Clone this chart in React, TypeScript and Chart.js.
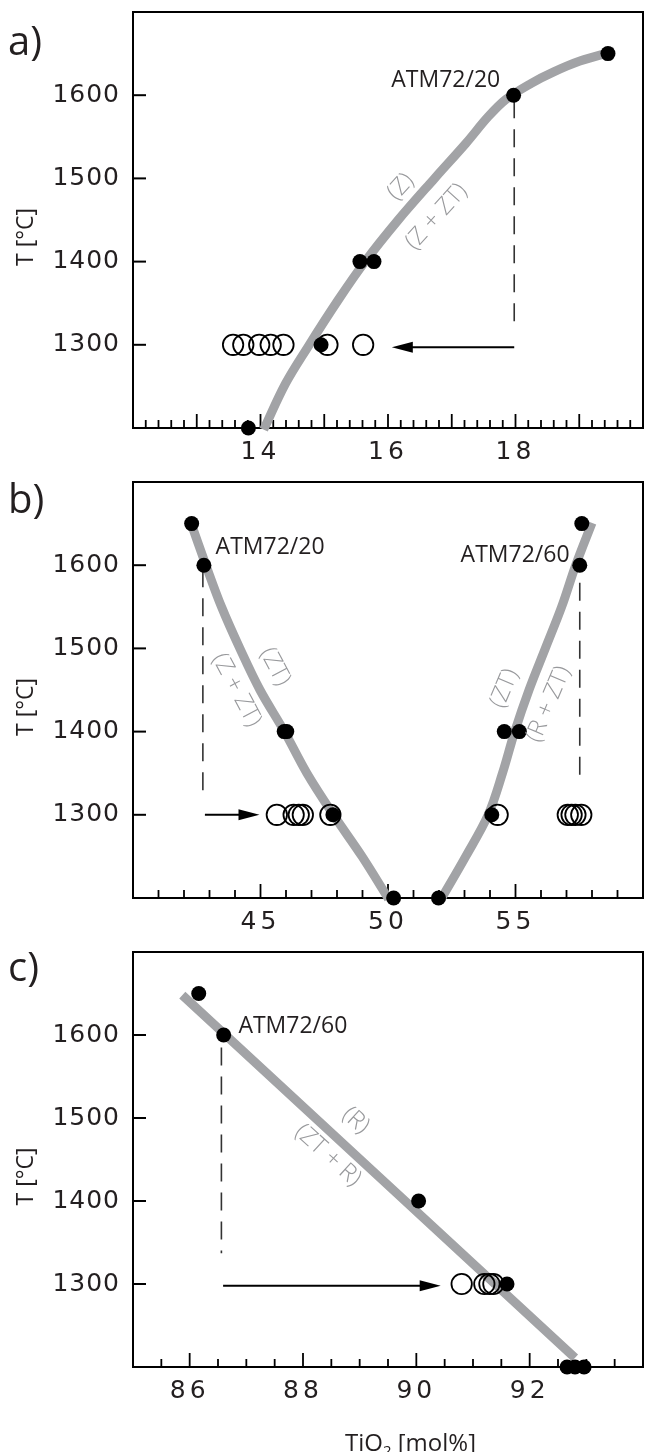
import { useEffect, useRef } from 'react';
import { Chart, registerables } from 'chart.js';

Chart.register(...registerables);

// ---------------- panel a) ----------------
const aCurveX = [14.05, 14.39, 14.74, 15.22, 15.64, 16.16, 16.73, 17.22, 17.57, 17.85, 18.24, 18.6, 19.01, 19.55];
const aCurveT = [1198, 1253, 1297, 1354, 1400, 1450, 1500, 1542, 1574, 1595, 1614, 1628, 1641, 1653];
const aFilledX = [13.81, 14.95, 15.56, 15.78, 17.97, 19.45];
const aFilledT = [1200, 1300, 1400, 1400, 1600, 1650];
const aOpenX = [13.57, 13.73, 13.98, 14.16, 14.36, 15.05, 15.61];
const aOpenT = [1300, 1300, 1300, 1300, 1300, 1300, 1300];
const aGuideX = [17.98, 17.98];
const aGuideT = [1594, 1322];
const aArrowX = [17.98, 16.06];
const aArrowT = [1297, 1297];
const aXTickLabels = [14, 16, 18];

// ---------------- panel b) ----------------
const bLeftCurveX = [42.27, 42.86, 43.47, 44.19, 44.98, 45.94, 46.82, 47.86, 48.98, 50.02];
const bLeftCurveT = [1651, 1600, 1550, 1500, 1450, 1400, 1350, 1300, 1250, 1199];
const bRightCurveX = [52.09, 53.05, 53.93, 54.49, 54.97, 55.53, 56.17, 56.81, 57.36, 58.0];
const bRightCurveT = [1199, 1250, 1300, 1350, 1400, 1450, 1500, 1550, 1600, 1651];
const bFilledX = [42.3, 42.78, 45.93, 46.03, 47.84, 50.22, 51.98, 54.07, 54.56, 55.15, 57.52, 57.6];
const bFilledT = [1650, 1600, 1400, 1400, 1300, 1200, 1200, 1300, 1400, 1400, 1600, 1650];
const bOpenX = [45.64, 46.3, 46.5, 46.66, 47.74, 54.3, 57.05, 57.2, 57.35, 57.58];
const bOpenT = [1300, 1300, 1300, 1300, 1300, 1300, 1300, 1300, 1300, 1300];
const bGuideLeftX = [42.74, 42.74];
const bGuideLeftT = [1595, 1321];
const bGuideRightX = [57.52, 57.52];
const bGuideRightT = [1579, 1335];
const bArrowX = [42.82, 44.96];
const bArrowT = [1300, 1300];
const bXTickLabels = [45, 50, 55];

// ---------------- panel c) ----------------
const cLineX = [85.87, 92.8];
const cLineT = [1648, 1211];
const cFilledX = [86.16, 86.6, 90.04, 91.6, 92.66, 92.8, 92.96];
const cFilledT = [1650, 1600, 1400, 1300, 1200, 1200, 1200];
const cOpenX = [90.8, 91.2, 91.29, 91.36];
const cOpenT = [1300, 1300, 1300, 1300];
const cGuideX = [86.56, 86.56];
const cGuideT = [1585, 1337];
const cArrowX = [86.59, 90.43];
const cArrowT = [1298, 1298];
const cXTickLabels = [86, 88, 90, 92];

// shared temperature axis
const yTickLabels = [1300, 1400, 1500, 1600];
const yTickMarks = [1200, 1300, 1400, 1500, 1600, 1700];

const GRAY_LINE = '#a2a3a6';
const GRAY_TEXT = '#98999c';
const INK = '#231f20';
const TICK_FONT = 'DejaVu Sans';
const TEXT_FONT = '"Open Sans", "Noto Sans", sans-serif';

type Txt = { text: string; x: number; y: number; align: CanvasTextAlign; rot?: number; gray?: boolean };

type Spec = {
  key: string;
  label: string;
  labelY: number;
  height: number;
  padTop: number;
  xAxisHeight: number;
  xMin: number;
  xMax: number;
  minorStep: number;
  majorStep: number;
  xTicks: number[];
  curves: { x: number[]; t: number[] }[];
  guides: { x: number[]; t: number[] }[];
  arrows: { x: number[]; t: number[] }[];
  filled: { x: number[]; t: number[] };
  open: { x: number[]; t: number[] };
  texts: Txt[];
  xTitle?: boolean;
};

const panelA: Spec = {
  key: 'a', label: 'a)', labelY: 55, height: 470, padTop: 12, xAxisHeight: 42,
  xMin: 12, xMax: 20, minorStep: 0.2, majorStep: 1, xTicks: aXTickLabels,
  curves: [{ x: aCurveX, t: aCurveT }],
  guides: [{ x: aGuideX, t: aGuideT }],
  arrows: [{ x: aArrowX, t: aArrowT }],
  filled: { x: aFilledX, t: aFilledT },
  open: { x: aOpenX, t: aOpenT },
  texts: [
    { text: 'ATM72/20', x: 17.76, y: 1609.5, align: 'right' },
    { text: '(Z)', x: 16.2, y: 1490, align: 'center', rot: -48, gray: true },
    { text: '(Z + ZT)', x: 16.76, y: 1454, align: 'center', rot: -48, gray: true },
  ],
};

const panelB: Spec = {
  key: 'b', label: 'b)', labelY: 43, height: 470, padTop: 12, xAxisHeight: 42,
  xMin: 40, xMax: 60, minorStep: 1, majorStep: 5, xTicks: bXTickLabels,
  curves: [{ x: bLeftCurveX, t: bLeftCurveT }, { x: bRightCurveX, t: bRightCurveT }],
  guides: [{ x: bGuideLeftX, t: bGuideLeftT }, { x: bGuideRightX, t: bGuideRightT }],
  arrows: [{ x: bArrowX, t: bArrowT }],
  filled: { x: bFilledX, t: bFilledT },
  open: { x: bOpenX, t: bOpenT },
  texts: [
    { text: 'ATM72/20', x: 43.24, y: 1614, align: 'left' },
    { text: 'ATM72/60', x: 57.12, y: 1604, align: 'right' },
    { text: '(ZT)', x: 45.57, y: 1478, align: 'center', rot: 62, gray: true },
    { text: '(Z + ZT)', x: 44.06, y: 1450, align: 'center', rot: 62, gray: true },
    { text: '(ZT)', x: 54.57, y: 1452, align: 'center', rot: -67, gray: true },
    { text: '(R + ZT)', x: 56.3, y: 1433, align: 'center', rot: -67, gray: true },
  ],
};

const panelC: Spec = {
  key: 'c', label: 'c)', labelY: 41, height: 512, padTop: 11, xAxisHeight: 85,
  xMin: 85, xMax: 94, minorStep: 0.5, majorStep: 2, xTicks: cXTickLabels,
  curves: [{ x: cLineX, t: cLineT }],
  guides: [{ x: cGuideX, t: cGuideT }],
  arrows: [{ x: cArrowX, t: cArrowT }],
  filled: { x: cFilledX, t: cFilledT },
  open: { x: cOpenX, t: cOpenT },
  texts: [
    { text: 'ATM72/60', x: 86.86, y: 1603, align: 'left' },
    { text: '(R)', x: 88.93, y: 1497, align: 'center', rot: 42, gray: true },
    { text: '(ZT + R)', x: 88.44, y: 1455, align: 'center', rot: 42, gray: true },
  ],
  xTitle: true,
};

const pts = (xs: number[], ts: number[]) => xs.map((x, i) => ({ x, y: ts[i] }));

function setSpacing(ctx: any, v: string) {
  if ('letterSpacing' in ctx) ctx.letterSpacing = v;
}

function decoPlugin(p: Spec) {
  return {
    id: 'deco' + p.key,
    beforeDraw(chart: any) {
      // slightly spaced numerals for the temperature tick labels
      setSpacing(chart.ctx, '1px');
    },
    beforeDatasetsDraw(chart: any) {
      const { ctx, chartArea, scales } = chart;
      setSpacing(ctx, '0px');
      const { left, right, top, bottom } = chartArea;
      const xs = scales.x;
      const ys = scales.y;
      ctx.save();
      ctx.strokeStyle = '#000';
      ctx.lineWidth = 2;
      ctx.strokeRect(left, top, right - left, bottom - top);
      // temperature ticks (inward)
      for (const v of yTickMarks) {
        const py = ys.getPixelForValue(v);
        ctx.beginPath();
        ctx.moveTo(left, py);
        ctx.lineTo(left + 13, py);
        ctx.stroke();
      }
      // composition ticks (inward)
      ctx.lineWidth = 1.8;
      const n = Math.round((p.xMax - p.xMin) / p.minorStep);
      for (let i = 1; i < n; i++) {
        const v = p.xMin + i * p.minorStep;
        const r = v / p.majorStep;
        const major = Math.abs(r - Math.round(r)) < 1e-6;
        const px = xs.getPixelForValue(v);
        ctx.beginPath();
        ctx.moveTo(px, bottom);
        ctx.lineTo(px, bottom - (major ? 14 : 8));
        ctx.stroke();
      }
      ctx.restore();
    },
    afterDatasetsDraw(chart: any) {
      const { ctx, chartArea, scales } = chart;
      const xs = scales.x;
      const ys = scales.y;
      setSpacing(ctx, '0px');
      ctx.save();
      // arrows
      for (const a of p.arrows) {
        const x0 = xs.getPixelForValue(a.x[0]);
        const y0 = ys.getPixelForValue(a.t[0]);
        const x1 = xs.getPixelForValue(a.x[1]);
        const y1 = ys.getPixelForValue(a.t[1]);
        const dir = Math.sign(x1 - x0);
        const headLen = 21;
        const half = 5.5;
        ctx.strokeStyle = '#000';
        ctx.fillStyle = '#000';
        ctx.lineWidth = 2;
        ctx.beginPath();
        ctx.moveTo(x0, y0);
        ctx.lineTo(x1 - dir * headLen * 0.8, y1);
        ctx.stroke();
        ctx.beginPath();
        ctx.moveTo(x1, y1);
        ctx.lineTo(x1 - dir * headLen, y1 - half);
        ctx.lineTo(x1 - dir * headLen, y1 + half);
        ctx.closePath();
        ctx.fill();
      }
      // annotations
      for (const t of p.texts) {
        ctx.save();
        ctx.translate(xs.getPixelForValue(t.x), ys.getPixelForValue(t.y));
        if (t.rot) ctx.rotate((t.rot * Math.PI) / 180);
        ctx.font = t.gray ? `300 24px ${TEXT_FONT}` : `23px ${TEXT_FONT}`;
        ctx.fillStyle = t.gray ? GRAY_TEXT : INK;
        ctx.textAlign = t.align;
        ctx.textBaseline = t.gray ? 'middle' : 'alphabetic';
        ctx.fillText(t.text, 0, 0);
        ctx.restore();
      }
      // panel label
      ctx.font = `40px ${TEXT_FONT}`;
      ctx.fillStyle = INK;
      ctx.textAlign = 'left';
      ctx.textBaseline = 'alphabetic';
      ctx.fillText(p.label, 8, p.labelY);
      // temperature axis title
      ctx.save();
      ctx.translate(26, (chartArea.top + chartArea.bottom) / 2 + 17);
      ctx.rotate(-Math.PI / 2);
      ctx.font = `23px ${TEXT_FONT}`;
      ctx.textAlign = 'center';
      ctx.textBaseline = 'middle';
      ctx.fillText('T [°C]', 0, 0);
      ctx.restore();
      // composition axis title
      if (p.xTitle) {
        let x = 345;
        const base = 510.5;
        ctx.textAlign = 'left';
        ctx.textBaseline = 'alphabetic';
        ctx.font = `24px ${TEXT_FONT}`;
        ctx.fillText('TiO', x, base);
        x += ctx.measureText('TiO').width;
        ctx.font = `15px ${TEXT_FONT}`;
        ctx.fillText('2', x, base + 5);
        x += ctx.measureText('2').width;
        ctx.font = `24px ${TEXT_FONT}`;
        ctx.fillText(' [mol%]', x, base);
      }
      ctx.restore();
      // wider spacing for the composition tick labels (drawn after datasets, z = 1)
      setSpacing(ctx, '4px');
    },
    afterDraw(chart: any) {
      setSpacing(chart.ctx, '0px');
    },
  };
}

const zeroPad = (s: any) => {
  s.paddingTop = 0;
  s.paddingBottom = 0;
  s.paddingLeft = 0;
  s.paddingRight = 0;
};

function makeConfig(p: Spec): any {
  const datasets: any[] = [];
  datasets.push({
    data: pts(p.filled.x, p.filled.t),
    pointRadius: 7.5,
    pointBackgroundColor: '#000',
    pointBorderWidth: 0,
    order: 0,
    clip: false,
  });
  datasets.push({
    data: pts(p.open.x, p.open.t),
    pointRadius: 10.2,
    pointBackgroundColor: 'rgba(255,255,255,0)',
    pointBorderColor: '#000',
    pointBorderWidth: 1.8,
    order: 1,
    clip: false,
  });
  p.guides.forEach((g) =>
    datasets.push({
      type: 'line',
      data: pts(g.x, g.t),
      borderColor: '#333',
      borderWidth: 1.6,
      borderDash: [18, 11],
      pointRadius: 0,
      fill: false,
      order: 2,
      clip: false,
    })
  );
  p.curves.forEach((c) =>
    datasets.push({
      type: 'line',
      data: pts(c.x, c.t),
      borderColor: GRAY_LINE,
      borderWidth: 9,
      borderCapStyle: 'butt',
      pointRadius: 0,
      tension: 0.35,
      fill: false,
      order: 4,
      clip: false,
    })
  );
  return {
    type: 'scatter',
    data: { datasets },
    options: {
      responsive: false,
      animation: false,
      events: [],
      layout: { padding: { top: p.padTop, right: 1, left: 0, bottom: 0 } },
      plugins: { legend: { display: false }, tooltip: { enabled: false } },
      scales: {
        x: {
          type: 'linear',
          min: p.xMin,
          max: p.xMax,
          grid: { display: false, drawTicks: false },
          border: { display: false },
          afterBuildTicks: (s: any) => {
            s.ticks = p.xTicks.map((v) => ({ value: v }));
          },
          afterFit: (s: any) => {
            s.height = p.xAxisHeight;
            zeroPad(s);
          },
          ticks: {
            font: { family: TICK_FONT, size: 25 },
            color: INK,
            padding: 9,
            z: 1,
            maxRotation: 0,
            minRotation: 0,
            autoSkip: false,
            callback: (v: any) => String(v),
          },
        },
        y: {
          type: 'linear',
          min: 1200,
          max: 1700,
          grid: { display: false, drawTicks: false },
          border: { display: false },
          afterBuildTicks: (s: any) => {
            s.ticks = yTickLabels.map((v) => ({ value: v }));
          },
          afterFit: (s: any) => {
            s.width = 133;
            zeroPad(s);
          },
          ticks: {
            font: { family: TICK_FONT, size: 25 },
            color: INK,
            padding: 13,
            autoSkip: false,
            callback: (v: any) => String(v),
          },
        },
      },
    },
    plugins: [decoPlugin(p)],
  };
}

function Panel({ spec, top }: { spec: Spec; top: number }) {
  const ref = useRef<HTMLCanvasElement | null>(null);
  useEffect(() => {
    if (!ref.current) return;
    const chart = new Chart(ref.current, makeConfig(spec));
    return () => chart.destroy();
  }, [spec]);
  return (
    <canvas
      ref={ref}
      width={655}
      height={spec.height}
      style={{ position: 'absolute', left: 0, top, width: 655, height: spec.height, display: 'block' }}
    />
  );
}

export default function App() {
  return (
    <div style={{ position: 'absolute', left: 0, top: 0, width: 655, height: 1452, background: '#fff', overflow: 'hidden' }}>
      <Panel spec={panelA} top={0} />
      <Panel spec={panelB} top={470} />
      <Panel spec={panelC} top={940} />
    </div>
  );
}
